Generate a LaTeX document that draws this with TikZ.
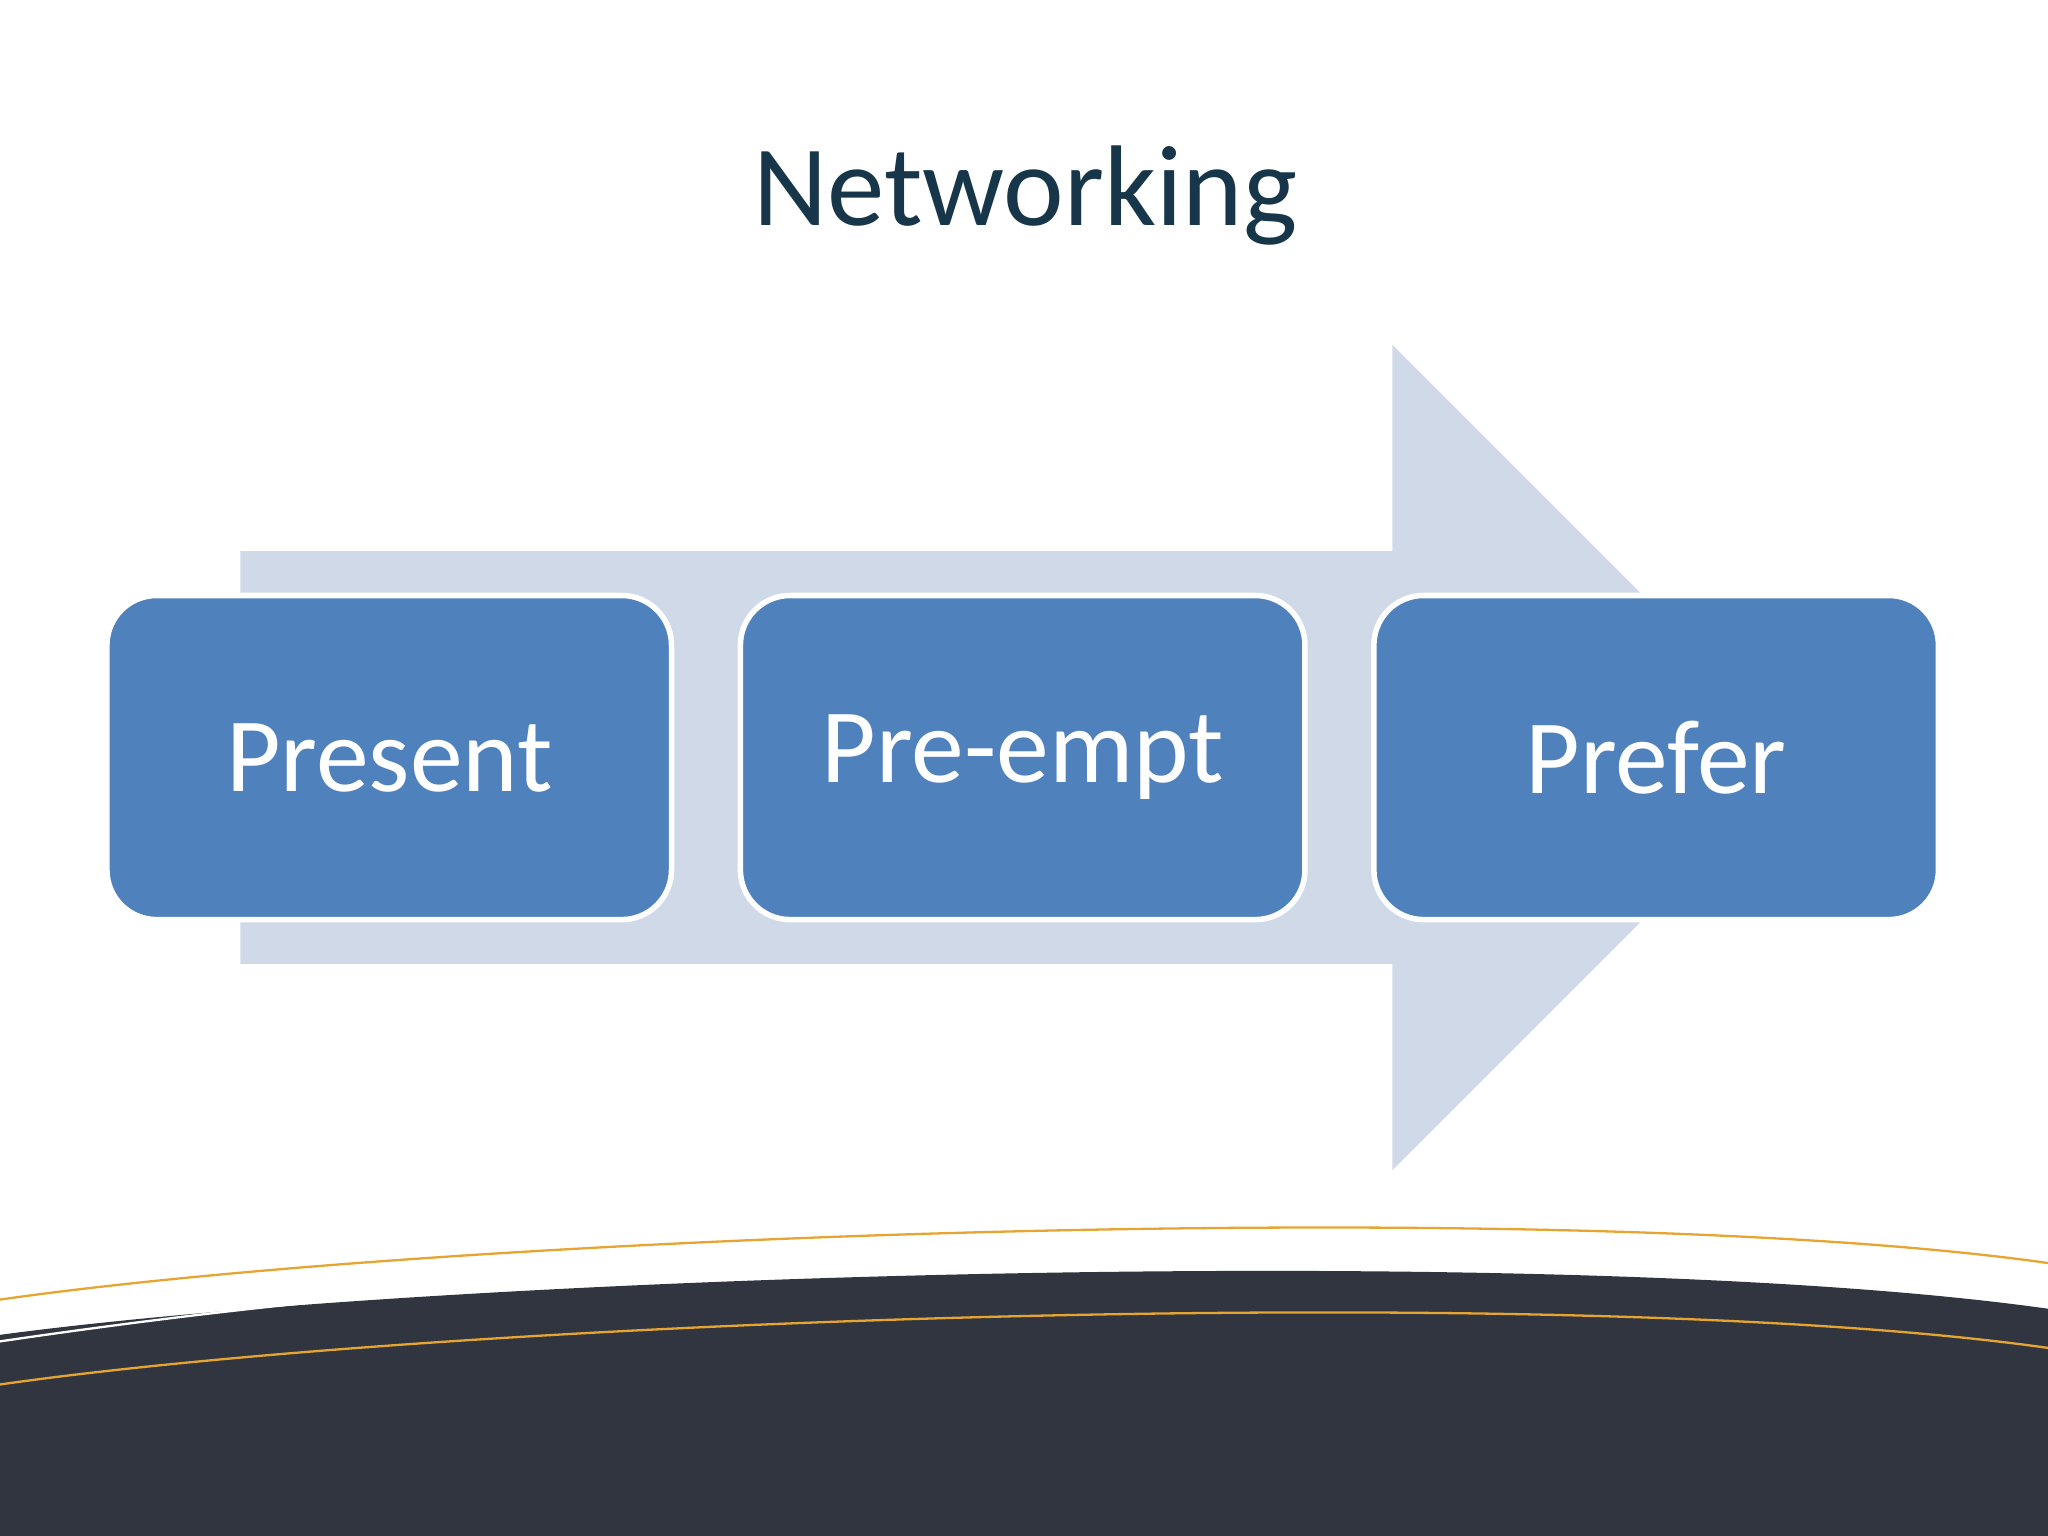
\documentclass[tikz,border=0pt]{standalone}
\usepackage{fontspec}
\setmainfont{Carlito}
\begin{document}
\begin{tikzpicture}[x=0.01cm,y=-0.01cm,
  box/.style={draw=white,line width=1.2pt,fill=boxblue,rounded corners=0.38cm,minimum width=4.32cm,minimum height=2.48cm,text=white,font=\fontsize{23}{27}\selectfont,inner sep=0pt}]
\definecolor{boxblue}{HTML}{4F81BD}
\definecolor{arrowblue}{HTML}{D0D9E8}
\definecolor{navy}{HTML}{17364A}
\definecolor{darkb}{HTML}{31353F}
\definecolor{gold}{HTML}{E6A531}
\useasboundingbox (0,0) rectangle (1568,1176);
\node[text=navy,font=\fontsize{25}{30}\selectfont] (title) at (785,150) {Networking};
\fill[arrowblue] (184,422) -- (1066,422) -- (1066,264) -- (1382,580) -- (1066,896) -- (1066,738) -- (184,738) -- cycle;
\node[box] (present) at (298,580) {Present};
\node[box] (preempt) at (783,580) {Pre-empt};
\node[box] (prefer) at (1268,580) {Prefer};
% bottom
\fill[darkb] (0,1022) .. controls (350,975) and (1200,950) .. (1568,1002) -- (1568,1176) -- (0,1176) -- cycle;
\draw[gold,line width=0.5pt] (0,995) .. controls (350,945) and (1200,915) .. (1568,967);
\draw[white,line width=0.5pt] (0,1027) .. controls (150,1005) and (300,988) .. (500,977);
\draw[gold,line width=0.5pt] (0,1060) .. controls (350,1010) and (1200,980) .. (1568,1032);
\end{tikzpicture}
\end{document}
